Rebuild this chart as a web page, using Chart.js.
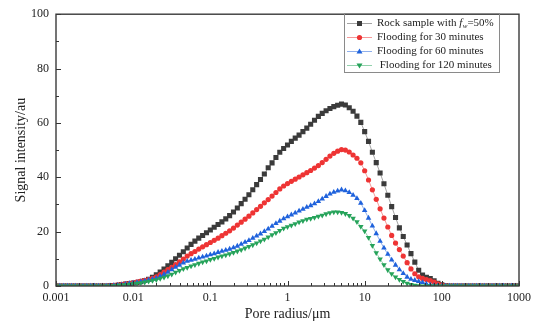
<!DOCTYPE html>
<html lang="en">
<head>
<meta charset="UTF-8">
<script src="https://cdn.jsdelivr.net/npm/chart.js"></script>
<title>Pore radius distribution</title>
<style>
  html, body { margin: 0; padding: 0; background: #fff; }
  #wrap { width: 541px; height: 327px; }
</style>
</head>
<body>
<div id="wrap"><canvas id="myChart" width="541" height="327"></canvas></div>
<script>
// sampling grid of the T2 spectrum: 20 points per decade, 0.001 .. 1000 um
const poreRadius = [];
for (let i = 0; i <= 120; i++) poreRadius.push(Math.pow(10, -3 + i / 20));

const xTicks = [0.001, 0.01, 0.1, 1, 10, 100, 1000];
const xTickLabels = ['0.001', '0.01', '0.1', '1', '10', '100', '1000'];
const yTicks = [0, 20, 40, 60, 80, 100];

const seriesNames = ['Rock sample with f_w=50%', 'Flooding for 30 minutes', 'Flooding for 60 minutes', ' Flooding for 120 minutes'];

const rockSample = [
  0,0,0,0,0,0,0,0,0,0,0,0,0,0,
  0.1,0.2,0.3,0.5,0.7,0.9,1.1,1.3,1.6,2.0,2.5,3.2,4.1,5.1,6.2,7.4,8.7,10.0,11.3,12.6,
  14.0,15.3,16.5,17.6,18.6,19.6,20.6,21.6,22.6,23.6,24.7,25.9,27.2,28.7,30.3,31.9,33.6,35.4,37.3,39.2,41.2,
  43.5,45.3,47.3,49.2,50.6,51.9,53.2,54.4,55.5,56.8,58.1,59.5,61.0,62.4,63.5,64.5,65.3,66.0,66.5,66.9,
  66.6,65.6,64.3,62.5,60.2,56.8,53.2,49.2,45.4,41.6,37.6,33.4,29.2,25.2,21.4,18.2,15.1,11.9,8.8,5.8,
  4.0,3.2,2.7,1.9,1.0,0.4,0.1,
  0,0,0,0,0,0,0,0,0,0,0,0,0,0,0,0,0,0,0
];
const flood30 = [
  0,0,0,0,0,0,0,0,0,0,0,0,0,0,
  0.1,0.2,0.4,0.6,0.8,1.0,1.2,1.5,1.8,2.1,2.4,2.8,3.4,4.2,5.1,6.0,6.9,7.9,8.9,9.9,
  11.0,11.9,12.7,13.6,14.4,15.2,16.0,16.8,17.6,18.5,19.4,20.3,21.3,22.4,23.5,24.6,25.7,26.9,28.1,29.3,30.6,
  31.8,33.1,34.4,35.7,36.8,37.7,38.5,39.3,40.1,40.9,41.7,42.5,43.4,44.3,45.4,46.6,47.8,48.8,49.6,50.2,
  50.0,49.3,48.2,47.0,45.3,42.4,39.0,35.4,31.9,28.4,25.0,21.7,18.6,15.8,13.4,11.0,8.6,6.3,4.5,3.4,
  2.8,2.4,2.0,1.4,0.8,0.3,0.1,
  0,0,0,0,0,0,0,0,0,0,0,0,0,0,0,0,0,0,0
];
const flood60 = [
  0,0,0,0,0,0,0,0,0,0,0,0,0,0,
  0.1,0.2,0.3,0.5,0.7,0.9,1.1,1.3,1.6,1.9,2.2,2.5,2.9,3.5,4.3,5.1,6.0,6.9,7.7,8.5,
  9.1,9.5,9.9,10.3,10.7,11.1,11.5,11.9,12.4,12.8,13.2,13.6,14.1,14.7,15.4,16.1,16.8,17.6,18.4,19.2,20.1,
  21.0,22.0,23.0,23.9,24.8,25.5,26.2,26.9,27.6,28.3,29.0,29.6,30.3,31.1,32.0,33.0,33.9,34.5,35.0,35.4,
  35.1,34.4,33.4,32.2,30.5,27.8,25.0,22.1,19.3,16.5,14.0,11.7,9.6,7.7,6.0,4.6,3.3,2.5,2.1,1.7,
  1.3,0.8,0.4,0.2,0.1,0,0,
  0,0,0,0,0,0,0,0,0,0,0,0,0,0,0,0,0,0,0
];
const flood120 = [
  0,0,0,0,0,0,0,0,0,0,0,0,0,0,
  0,0.1,0.2,0.3,0.4,0.6,0.8,1.0,1.2,1.4,1.7,2.0,2.3,2.7,3.2,3.7,4.3,5.0,5.7,6.3,
  6.8,7.3,7.8,8.3,8.8,9.2,9.7,10.1,10.6,11.0,11.4,11.8,12.3,12.8,13.3,13.9,14.5,15.1,15.8,16.5,17.2,
  18.0,18.8,19.6,20.4,21.2,21.8,22.3,22.9,23.5,24.0,24.5,24.8,25.2,25.6,26.0,26.5,26.9,27.2,27.2,27.0,
  26.6,25.9,24.9,23.6,21.9,20.2,17.8,14.9,12.2,9.9,7.8,5.9,4.5,3.3,2.4,1.6,1.0,0.5,0.2,0.1,
  0,0,0,0,0,0,0,
  0,0,0,0,0,0,0,0,0,0,0,0,0,0,0,0,0,0,0
];

const serif = '"Liberation Serif", "Times New Roman", serif';
const styles = [
  { color: '#3b3b3b', line: 'rgba(90,90,90,0.55)', shape: 'rect', radius: 3.6, rotation: 0 },
  { color: '#ee3434', line: 'rgba(238,52,52,0.5)', shape: 'circle', radius: 2.6, rotation: 0 },
  { color: '#1f62dc', line: 'rgba(31,98,220,0.5)', shape: 'triangle', radius: 3.2, rotation: 0 },
  { color: '#26a35a', line: 'rgba(38,163,90,0.5)', shape: 'triangle', radius: 3.2, rotation: 180 }
];
const allSeries = [rockSample, flood30, flood60, flood120];

function mark(ctx, s, x, y) {
  ctx.fillStyle = s.color;
  ctx.beginPath();
  if (s.shape === 'rect') {
    ctx.rect(x - 2.5, y - 2.5, 5, 5);
  } else if (s.shape === 'circle') {
    ctx.arc(x, y, s.radius, 0, Math.PI * 2);
  } else if (s.rotation === 180) {
    ctx.moveTo(x - 3, y - 2); ctx.lineTo(x + 3, y - 2); ctx.lineTo(x, y + 3);
  } else {
    ctx.moveTo(x - 3, y + 2); ctx.lineTo(x + 3, y + 2); ctx.lineTo(x, y - 3);
  }
  ctx.closePath();
  ctx.fill();
}

// box, inward ticks
const frame = {
  id: 'frame',
  afterDatasetsDraw(chart) {
    const { ctx, chartArea: a, scales: { x, y } } = chart;
    ctx.save();
    ctx.strokeStyle = '#333';
    ctx.lineWidth = 1;
    ctx.beginPath();
    for (let v = 0; v <= 100; v += 10) {
      const py = Math.round(y.getPixelForValue(v)) + 0.5;
      ctx.moveTo(a.left, py);
      ctx.lineTo(a.left + (v % 20 === 0 ? 5 : 3), py);
    }
    xTicks.forEach(function (d, k) {
      const px = Math.round(x.getPixelForValue(d)) + 0.5;
      ctx.moveTo(px, a.bottom);
      ctx.lineTo(px, a.bottom - 5);
      if (k < xTicks.length - 1) {
        for (let m = 2; m <= 9; m++) {
          const q = Math.round(x.getPixelForValue(m * d)) + 0.5;
          ctx.moveTo(q, a.bottom);
          ctx.lineTo(q, a.bottom - 3);
        }
      }
    });
    ctx.stroke();
    ctx.lineWidth = 1.4;
    ctx.strokeStyle = '#3a3a3a';
    ctx.strokeRect(a.left, a.top, a.right - a.left, a.bottom - a.top);
    ctx.restore();
  }
};

const legendBox = {
  id: 'legendBox',
  afterDraw(chart) {
    const ctx = chart.ctx;
    ctx.save();
    ctx.strokeStyle = '#8a8a8a';
    ctx.lineWidth = 1;
    ctx.strokeRect(344.5, 13.5, 155, 59);
    const rows = [23, 37, 51, 65];
    ctx.textBaseline = 'middle';
    seriesNames.forEach(function (name, i) {
      const s = styles[i];
      const ry = rows[i];
      ctx.strokeStyle = s.line;
      ctx.lineWidth = 1;
      ctx.beginPath();
      ctx.moveTo(347, ry + 0.5);
      ctx.lineTo(372, ry + 0.5);
      ctx.stroke();
      mark(ctx, s, 359.5, ry + 0.5);
      ctx.fillStyle = '#222';
      ctx.font = '11px ' + serif;
      let tx = 377;
      if (name.indexOf('f_w') >= 0) {
        const parts = name.split('f_w');
        ctx.fillText(parts[0], tx, ry);
        tx += ctx.measureText(parts[0]).width;
        ctx.font = 'italic 11px ' + serif;
        ctx.fillText('f', tx, ry);
        tx += ctx.measureText('f').width + 0.5;
        ctx.font = 'italic 7px ' + serif;
        ctx.fillText('w', tx, ry + 3);
        tx += ctx.measureText('w').width;
        ctx.font = '11px ' + serif;
        ctx.fillText(parts[1], tx, ry);
      } else {
        ctx.fillText(name, tx, ry);
      }
    });
    ctx.restore();
  }
};

const datasets = allSeries.map(function (vals, i) {
  const s = styles[i];
  return {
    label: seriesNames[i],
    data: poreRadius.map(function (r, k) { return { x: r, y: vals[k] }; }),
    borderColor: s.line,
    borderWidth: 1,
    backgroundColor: s.color,
    pointBackgroundColor: s.color,
    pointBorderWidth: 0,
    pointStyle: s.shape,
    pointRadius: s.radius,
    pointRotation: s.rotation,
    order: 3 - i
  };
});

new Chart(document.getElementById('myChart'), {
  type: 'line',
  data: { datasets: datasets },
  options: {
    responsive: false,
    animation: false,
    devicePixelRatio: 1,
    layout: { padding: { top: 7, right: 22, left: 0, bottom: 0 } },
    plugins: { legend: { display: false }, tooltip: { enabled: false } },
    scales: {
      x: {
        type: 'logarithmic',
        min: 0.001,
        max: 1000,
        afterBuildTicks: function (scale) { scale.ticks = xTicks.map(function (v) { return { value: v }; }); },
        afterFit: function (scale) { scale.height = 41; },
        ticks: {
          autoSkip: false,
          maxRotation: 0,
          padding: 5,
          color: '#222',
          font: { family: serif, size: 12 },
          callback: function (v) { const k = xTicks.indexOf(v); return k >= 0 ? xTickLabels[k] : ''; }
        },
        grid: { display: false, drawTicks: false },
        border: { display: false },
        title: { display: true, text: 'Pore radius/\u03bcm', color: '#222', font: { family: serif, size: 14 }, padding: { top: 0, bottom: 4 } }
      },
      y: {
        min: 0,
        max: 100,
        afterBuildTicks: function (scale) { scale.ticks = yTicks.map(function (v) { return { value: v }; }); },
        afterFit: function (scale) { scale.width = 56; },
        ticks: { padding: 7, color: '#222', font: { family: serif, size: 12 } },
        grid: { display: false, drawTicks: false },
        border: { display: false },
        title: { display: true, text: 'Signal intensity/au', color: '#222', font: { family: serif, size: 14 }, padding: { top: 13, bottom: 0 } }
      }
    }
  },
  plugins: [frame, legendBox]
});
</script>
</body>
</html>
